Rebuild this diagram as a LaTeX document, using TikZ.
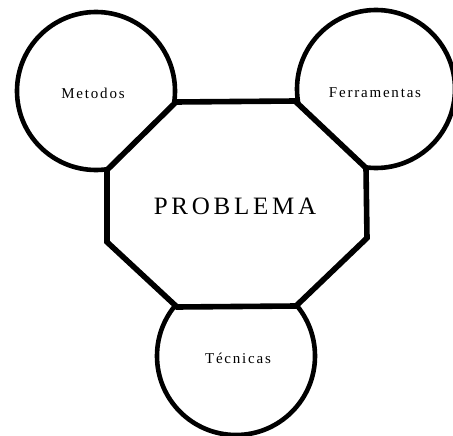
\documentclass[tikz,border=0pt]{standalone}
\usepackage{fontspec}
\setmainfont{Liberation Serif}
\newfontfamily\smallspaced{Liberation Serif}[LetterSpace=12]
\newfontfamily\bigspaced{Liberation Serif}[LetterSpace=15]
\begin{document}
\begin{tikzpicture}[x=1pt,y=-1pt,
  bubble/.style={circle, draw=black, line width=4.6pt, minimum size=158pt, inner sep=0pt},
  bubbletext/.style={font=\fontsize{15}{15}\selectfont\smallspaced, inner sep=0pt},
  octo/.style={draw=black, fill=white, line width=5.6pt, line join=miter},
  bigtext/.style={font=\fontsize{25}{25}\selectfont\bigspaced, inner sep=0pt}]
\useasboundingbox (0,0) rectangle (453,436);
% circles
\node[bubble] (met) at (96,91) {};
\node[bubble] (fer) at (376,89) {};
\node[bubble] (tec) at (236,356) {};
% octagon corners
\coordinate (o1) at (176,102);
\coordinate (o2) at (295,101);
\coordinate (o3) at (366,168);
\coordinate (o4) at (367,238);
\coordinate (o5) at (296,306);
\coordinate (o6) at (177,307);
\coordinate (o7) at (107,242);
\coordinate (o8) at (107,170);
\draw[octo] (o1) -- (o2) -- (o3) -- (o4) -- (o5) -- (o6) -- (o7) -- (o8) -- cycle;
% texts
\node[bubbletext] (metl) at (93,93) {Metodos};
\node[bubbletext] (ferl) at (375,93) {Ferramentas};
\node[bubbletext] (tecl) at (238,358) {Técnicas};
\node[bigtext] (prob) at (235,206) {PROBLEMA};
\end{tikzpicture}
\end{document}
